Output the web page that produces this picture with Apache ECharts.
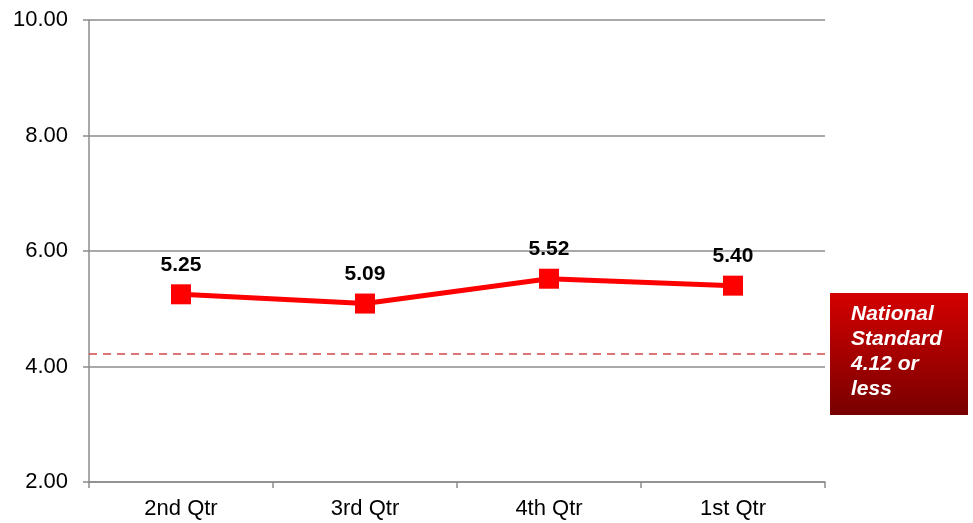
<!DOCTYPE html>
<html>
<head>
<meta charset="utf-8">
<script src="https://cdn.jsdelivr.net/npm/echarts@6/dist/echarts.min.js"></script>
<style>
html,body{margin:0;padding:0;background:#fff;}
#chart{width:973px;height:523px;}
</style>
</head>
<body>
<div id="chart"></div>
<script>
const categories = ['2nd Qtr', '3rd Qtr', '4th Qtr', '1st Qtr'];
const values = [5.25, 5.09, 5.52, 5.40];
const standardLineValue = 4.22;
const standardText = 'National\nStandard\n4.12 or\nless';
const yMin = 2, yMax = 10, yInterval = 2;

const chart = echarts.init(document.getElementById('chart'));
const font = '"Liberation Sans", Arial, sans-serif';
chart.setOption({
  animation: false,
  grid: { left: 89, right: 148, top: 20, bottom: 41 },
  xAxis: {
    type: 'category',
    data: categories,
    boundaryGap: true,
    axisLine: { lineStyle: { color: '#8c8c8c', width: 1.5 } },
    axisTick: { show: true, length: 6, alignWithLabel: false, lineStyle: { color: '#8c8c8c', width: 1.5 } },
    axisLabel: { color: '#000', fontSize: 22, fontFamily: font, margin: 16 }
  },
  yAxis: {
    type: 'value',
    min: yMin, max: yMax, interval: yInterval,
    axisLine: { show: true, lineStyle: { color: '#8c8c8c', width: 1.5 } },
    axisTick: { show: true, length: 6, lineStyle: { color: '#8c8c8c', width: 1.5 } },
    splitLine: { lineStyle: { color: '#8c8c8c', width: 1.5 } },
    axisLabel: { color: '#000', fontSize: 22, fontFamily: font, margin: 21,
      formatter: v => v.toFixed(2) }
  },
  series: [{
    type: 'line',
    data: values,
    symbol: 'rect',
    symbolSize: 20,
    itemStyle: { color: '#ff0000' },
    lineStyle: { color: '#ff0000', width: 5 },
    label: { show: true, position: 'top', distance: 9, color: '#000',
      fontSize: 21, fontWeight: 'bold', fontFamily: font,
      formatter: p => p.value.toFixed(2) },
    markLine: {
      silent: true,
      symbol: 'none',
      label: { show: false },
      lineStyle: { color: '#d64545', width: 1.5, type: [8, 6] },
      data: [{ yAxis: standardLineValue }]
    }
  }],
  graphic: [{
    type: 'rect',
    left: 830, top: 293,
    shape: { width: 138, height: 122 },
    style: {
      fill: new echarts.graphic.LinearGradient(0, 0, 0, 1, [
        { offset: 0, color: '#d40000' },
        { offset: 1, color: '#780000' }
      ])
    }
  }, {
    type: 'text',
    left: 851, top: 302,
    style: {
      text: standardText,
      fill: '#fff',
      font: 'italic bold 21px "Liberation Sans", Arial, sans-serif',
      lineHeight: 25
    }
  }]
});
</script>
</body>
</html>
